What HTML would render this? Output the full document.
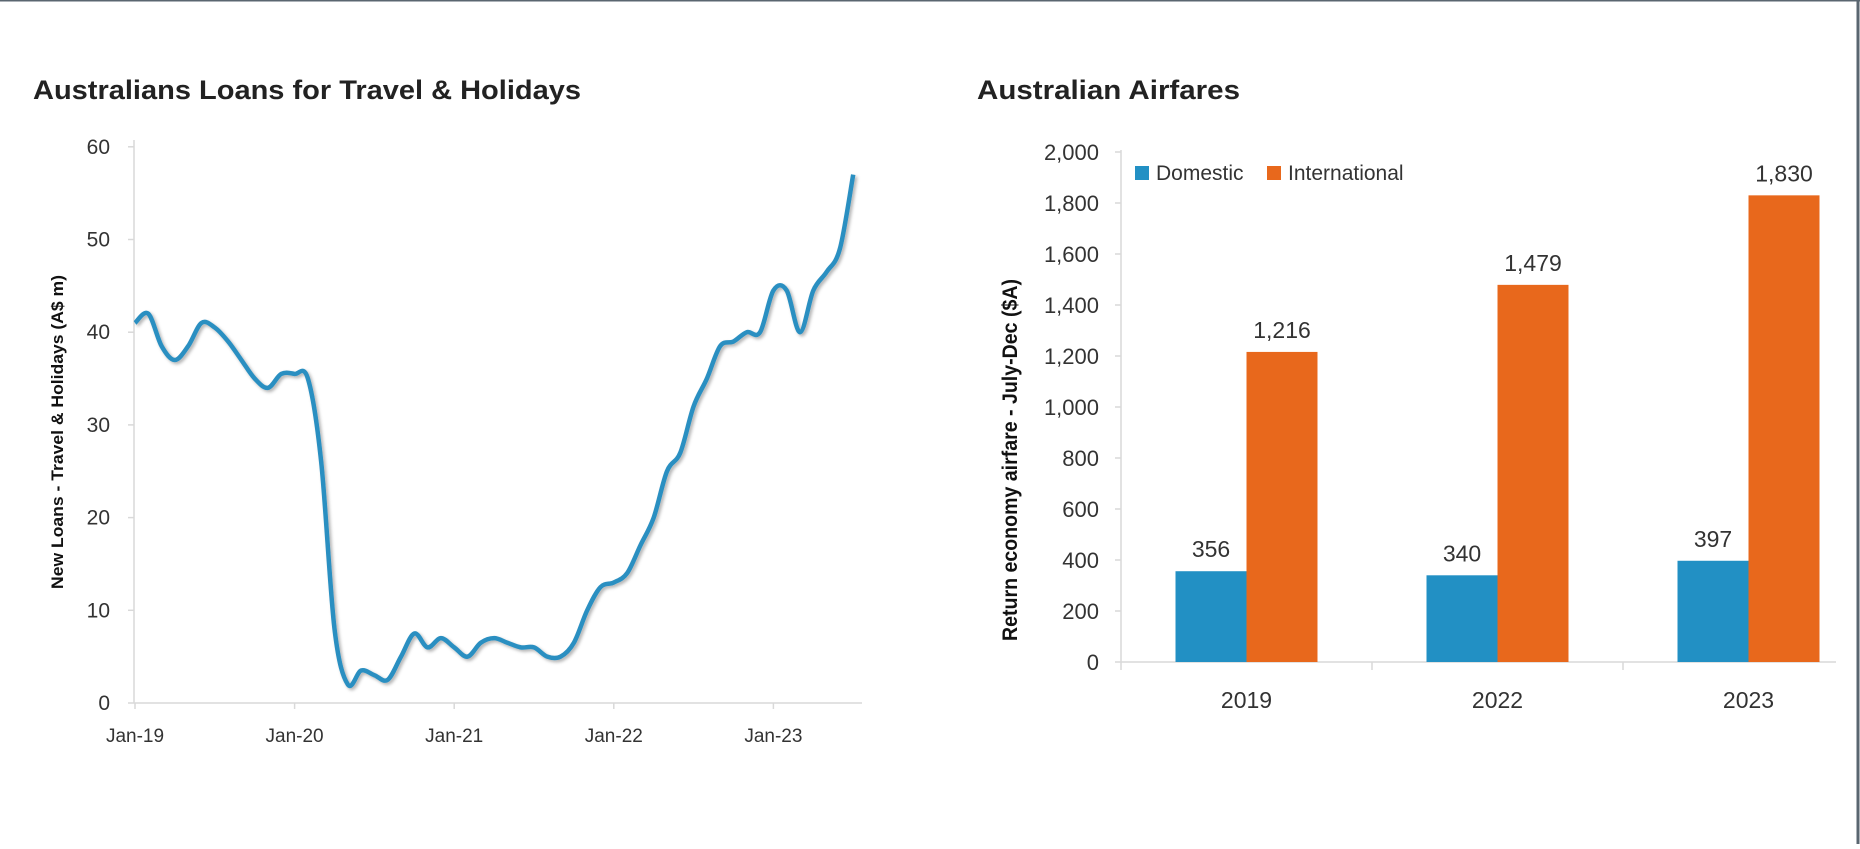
<!DOCTYPE html>
<html><head><meta charset="utf-8"><style>
body{margin:0;background:#fff;}
svg text{font-family:"Liberation Sans",sans-serif;}
</style></head><body>
<svg id="s" width="1860" height="844" xmlns="http://www.w3.org/2000/svg">
<defs><filter id="sh" x="-5%" y="-5%" width="110%" height="110%"><feDropShadow dx="2" dy="2" stdDeviation="1.5" flood-color="#000" flood-opacity="0.3"/></filter></defs>
<rect x="0" y="0" width="1860" height="844" fill="#fff"/>
<line x1="0" y1="0.5" x2="1860" y2="0.5" stroke="#5a6670" stroke-width="2"/>
<line x1="1858" y1="0" x2="1858" y2="844" stroke="#5a6670" stroke-width="3"/>
<text x="33" y="99" font-size="27" font-weight="bold" fill="#222" textLength="548" lengthAdjust="spacingAndGlyphs">Australians Loans for Travel &amp; Holidays</text>
<text x="977" y="99" font-size="27" font-weight="bold" fill="#222" textLength="263" lengthAdjust="spacingAndGlyphs">Australian Airfares</text>
<g id="left"></g>
<g id="right"></g>
</svg>
<script>
const NS="http://www.w3.org/2000/svg";
function mk(p,tag,at,txt){const e=document.createElementNS(NS,tag);for(const k in at)e.setAttribute(k,at[k]);if(txt!==undefined)e.textContent=txt;p.appendChild(e);return e;}

// ---- Left chart data ----
const loanValues=[41,42,38.5,37,38.5,41,40.5,39,37,35,34,35.5,35.5,35,26,8,2,3.5,3,2.5,5,7.5,6,7,6,5,6.5,7,6.5,6,6,5,5,6.5,10,12.5,13,14,17,20,25,27,32,35,38.5,39,40,40,44.5,44.5,40,44.5,46.5,49,57];
const loanYTicks=[0,10,20,30,40,50,60];
const loanXLabels=["Jan-19","Jan-20","Jan-21","Jan-22","Jan-23"];
const loanXLabelMonths=[0,12,24,36,48];

const L=document.getElementById('left');
const lx=m=>135+m*13.3, ly=v=>703-v*9.27;
let e=mk(L,'line',{x1:134,y1:140,x2:134,y2:703,stroke:'#d9d9d9','stroke-width':1.5});


e=mk(L,'line',{x1:134,y1:703,x2:862,y2:703,stroke:'#d9d9d9','stroke-width':1.5});


loanYTicks.forEach(t=>{
  const y=ly(t);
  mk(L,'line',{x1:128,y1:y,x2:134,y2:y,stroke:'#d9d9d9','stroke-width':1.5});
  e=mk(L,'text',{x:110,y:y+7,'text-anchor':'end','font-size':21,fill:'#333'},String(t));
  
  
});
loanXLabels.forEach((s,i)=>{
  const x=lx(loanXLabelMonths[i]);
  mk(L,'line',{x1:x,y1:703,x2:x,y2:709,stroke:'#d9d9d9','stroke-width':1.5});
  e=mk(L,'text',{x:x,y:742,'text-anchor':'middle','font-size':19,fill:'#333'},s);
  
  
});
e=mk(L,'text',{x:0,y:0,transform:'translate(63,432) rotate(-90)','text-anchor':'middle','font-size':17,'font-weight':'bold',fill:'#111',textLength:314,lengthAdjust:'spacingAndGlyphs'},'New Loans - Travel & Holidays (A$ m)');


const pts=loanValues.map((v,i)=>[lx(i),ly(v)]);
let d='M'+pts[0][0]+','+pts[0][1];
for(let i=0;i<pts.length-1;i++){
  const p0=pts[Math.max(0,i-1)],p1=pts[i],p2=pts[i+1],p3=pts[Math.min(pts.length-1,i+2)];
  const c1=[p1[0]+(p2[0]-p0[0])/6,p1[1]+(p2[1]-p0[1])/6];
  const c2=[p2[0]-(p3[0]-p1[0])/6,p2[1]-(p3[1]-p1[1])/6];
  d+=` C${c1[0]},${c1[1]} ${c2[0]},${c2[1]} ${p2[0]},${p2[1]}`;
}
e=mk(L,'path',{d:d,fill:'none',stroke:'#2b8fc1','stroke-width':4.5,'stroke-linejoin':'round',filter:'url(#sh)'});



// ---- Right chart data ----
const years=["2019","2022","2023"];
const domestic=[356,340,397];
const international=[1216,1479,1830];
const fareYTicks=[0,200,400,600,800,1000,1200,1400,1600,1800,2000];

const R=document.getElementById('right');
const x0=1121,cw=251,bw=71;
const ry=v=>662-v*0.255;
const fmt=n=>n.toLocaleString('en-US');
e=mk(R,'line',{x1:1121,y1:150,x2:1121,y2:662,stroke:'#d9d9d9','stroke-width':1.5});


e=mk(R,'line',{x1:1121,y1:662,x2:1836,y2:662,stroke:'#d9d9d9','stroke-width':1.5});


fareYTicks.forEach(t=>{
  const y=ry(t);
  mk(R,'line',{x1:1115,y1:y,x2:1121,y2:y,stroke:'#d9d9d9','stroke-width':1.5});
  e=mk(R,'text',{x:1099,y:y+8,'text-anchor':'end','font-size':22,fill:'#333'},fmt(t));
  
  
});
for(let i=0;i<=years.length;i++){mk(R,'line',{x1:x0+i*cw,y1:662,x2:x0+i*cw,y2:670,stroke:'#d9d9d9','stroke-width':1.5});}
e=mk(R,'text',{x:0,y:0,transform:'translate(1017,460) rotate(-90)','text-anchor':'middle','font-size':21,'font-weight':'bold',fill:'#111',textLength:362,lengthAdjust:'spacingAndGlyphs'},'Return economy airfare - July-Dec ($A)');


years.forEach((yr,i)=>{
  const c=x0+cw*i+cw/2;
  e=mk(R,'rect',{x:c-bw,y:ry(domestic[i]),width:bw,height:662-ry(domestic[i]),fill:'#2290c4'});
  
  
  e=mk(R,'rect',{x:c,y:ry(international[i]),width:bw,height:662-ry(international[i]),fill:'#e8681c'});
  
  
  e=mk(R,'text',{x:c-bw/2,y:ry(domestic[i])-14,'text-anchor':'middle','font-size':23,fill:'#333'},fmt(domestic[i]));
  
  
  e=mk(R,'text',{x:c+bw/2,y:ry(international[i])-14,'text-anchor':'middle','font-size':23,fill:'#333'},fmt(international[i]));
  
  
  e=mk(R,'text',{x:c,y:708,'text-anchor':'middle','font-size':23,fill:'#333'},yr);
  
  
});
e=mk(R,'rect',{x:1135,y:166,width:14,height:14,fill:'#2290c4'});


e=mk(R,'text',{x:1156,y:180,'font-size':21,fill:'#333'},'Domestic');


e=mk(R,'rect',{x:1267,y:166,width:14,height:14,fill:'#e8681c'});


e=mk(R,'text',{x:1288,y:180,'font-size':21,fill:'#333'},'International');


</script>
</body></html>
